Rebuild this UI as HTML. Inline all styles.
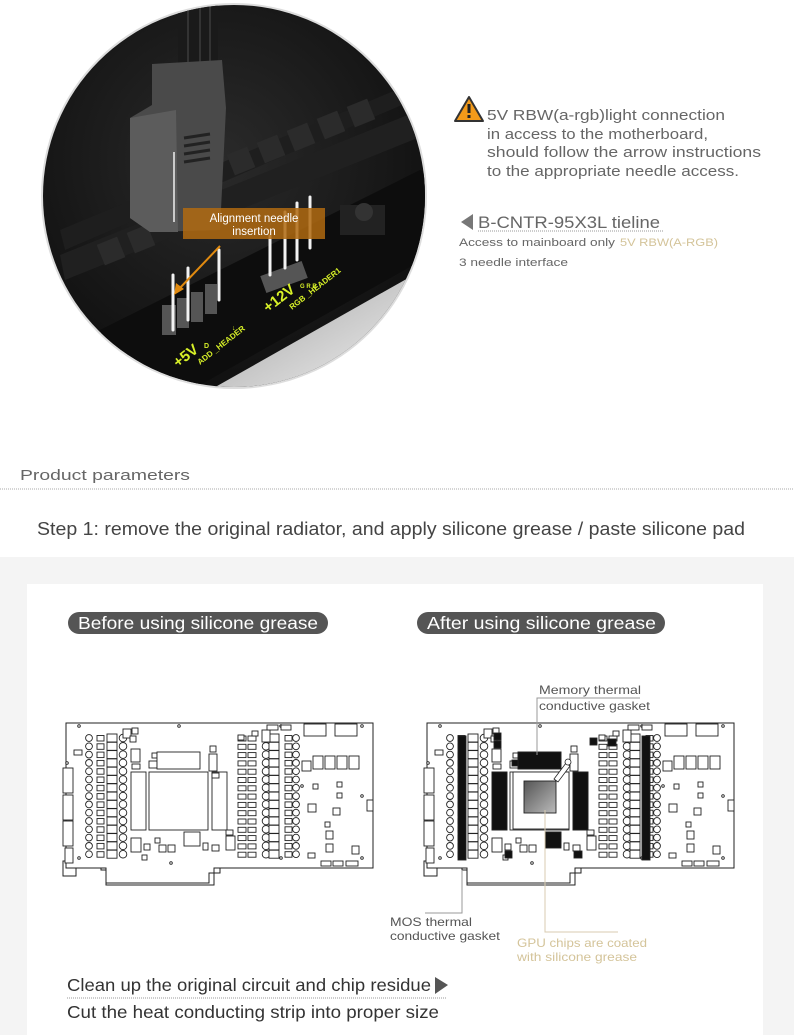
<!DOCTYPE html>
<html><head><meta charset="utf-8"><style>
html,body{margin:0;padding:0;background:#fff}
svg{display:block}
text{font-family:"Liberation Sans",sans-serif}
</style></head><body>
<svg id="s" width="794" height="1035" viewBox="0 0 794 1035" xmlns="http://www.w3.org/2000/svg">
<defs>
<radialGradient id="cg" cx="0.45" cy="0.4" r="0.7">
<stop offset="0" stop-color="#2a2a2a"/><stop offset="0.8" stop-color="#111"/><stop offset="1" stop-color="#0a0a0a"/>
</radialGradient>
<linearGradient id="lit" x1="0" y1="0" x2="1" y2="1">
<stop offset="0" stop-color="#999"/><stop offset="1" stop-color="#fafafa"/>
</linearGradient>
<linearGradient id="gpu" x1="0" y1="0" x2="1" y2="1">
<stop offset="0" stop-color="#555"/><stop offset="1" stop-color="#bbb"/>
</linearGradient>
<clipPath id="cc"><circle cx="234" cy="196" r="191"/></clipPath>
</defs>

<circle cx="234" cy="196" r="193" fill="#ddd"/>
<g clip-path="url(#cc)">
<rect x="40" y="0" width="400" height="400" fill="url(#cg)"/>
<path d="M210 390 L440 260 L440 400 L210 400 Z" fill="url(#lit)"/>
<path d="M100 330 L420 170 L440 180 L440 250 L200 385 L120 385 Z" fill="#0d0d0d"/>
<path d="M60 230 L420 80 L425 95 L65 250 Z" fill="#1e1e1e"/>
<path d="M60 255 L420 110 L425 135 L65 280 Z" fill="#202020"/>
<g fill="#2b2b2b">
<rect x="230" y="150" width="22" height="22" transform="rotate(-22 241 161)"/>
<rect x="260" y="138" width="22" height="22" transform="rotate(-22 271 149)"/>
<rect x="290" y="126" width="22" height="22" transform="rotate(-22 301 137)"/>
<rect x="320" y="114" width="22" height="22" transform="rotate(-22 331 125)"/>
<rect x="350" y="102" width="22" height="22" transform="rotate(-22 361 113)"/>
<rect x="100" y="240" width="22" height="22" transform="rotate(-22 111 251)"/>
<rect x="130" y="228" width="22" height="22" transform="rotate(-22 141 239)"/>
</g>
<rect x="178" y="0" width="40" height="70" rx="8" fill="#1a1a1a"/>
<line x1="188" y1="0" x2="188" y2="65" stroke="#333" stroke-width="2"/>
<line x1="200" y1="0" x2="200" y2="65" stroke="#333" stroke-width="2"/>
<line x1="210" y1="0" x2="210" y2="65" stroke="#333" stroke-width="2"/>
<path d="M152 64 L222 60 L226 108 L220 230 L150 232 L130 218 L130 118 L152 105 Z" fill="#4a4a4a"/>
<path d="M130 118 L176 110 L178 232 L150 232 L130 218 Z" fill="#5c5c5c"/>
<g stroke="#222" stroke-width="3"><line x1="184" y1="138" x2="210" y2="134"/><line x1="184" y1="146" x2="210" y2="142"/><line x1="184" y1="154" x2="210" y2="150"/><line x1="184" y1="162" x2="210" y2="158"/></g>
<line x1="174" y1="152" x2="174" y2="222" stroke="#eee" stroke-width="1.5"/>
<rect x="340" y="205" width="45" height="30" fill="#222"/>
<circle cx="364" cy="212" r="9" fill="#333"/>
<g fill="#555"><rect x="162" y="305" width="14" height="30"/><rect x="177" y="298" width="12" height="30"/><rect x="191" y="292" width="12" height="30"/><rect x="205" y="284" width="12" height="30"/>
<rect x="262" y="268" width="44" height="18" transform="rotate(-20 284 277)"/></g>
<g stroke="#f2f2f2" stroke-width="3" stroke-linecap="round">
<line x1="173" y1="275" x2="173" y2="330"/><line x1="188" y1="268" x2="188" y2="320"/><line x1="219" y1="250" x2="219" y2="300"/>
<line x1="270" y1="236" x2="270" y2="275"/><line x1="285" y1="212" x2="285" y2="268"/><line x1="297" y1="203" x2="297" y2="260"/><line x1="310" y1="197" x2="310" y2="248"/>
</g>
<g fill="#d7f028" font-weight="bold">
<text x="178" y="368" font-size="15" transform="rotate(-38 178 368)">+5V</text>
<text x="200" y="365" font-size="8" transform="rotate(-38 200 365)">ADD _HEADER</text>
<text x="268" y="313" font-size="15" transform="rotate(-38 268 313)">+12V</text>
<text x="292" y="310" font-size="8" transform="rotate(-38 292 310)">RGB _HEADER1</text>
<text x="204" y="348" font-size="7">D</text><text x="232" y="330" font-size="7">↓</text>
<text x="300" y="288" font-size="6">G  R  B</text>
</g>
<rect x="183" y="208" width="142" height="31" fill="#b06a10" opacity="0.85"/>
<text x="254" y="222" font-size="11.5" fill="#fff" text-anchor="middle">Alignment needle</text>
<text x="254" y="235" font-size="11.5" fill="#fff" text-anchor="middle">insertion</text>
<line x1="220" y1="246" x2="178" y2="290" stroke="#e08a10" stroke-width="2"/>
<path d="M174 295 L176 283 L184 289 Z" fill="#e08a10"/>
</g>

<path d="M469 97 L483 121 L455 121 Z" fill="#f39a1a" stroke="#333" stroke-width="2" stroke-linejoin="round"/>
<rect x="467.5" y="104" width="3" height="9" fill="#222"/><rect x="467.5" y="115" width="3" height="3" fill="#222"/>
<g fill="#666" font-size="15">
<text x="487" y="120" textLength="238">5V RBW(a-rgb)light connection</text>
<text x="487" y="139" textLength="221">in access to the motherboard,</text>
<text x="487" y="157" textLength="274">should follow the arrow instructions</text>
<text x="487" y="176" textLength="252">to the appropriate needle access.</text>
</g>
<path d="M461 222 L473 214 L473 230 Z" fill="#777"/>
<text x="478" y="228" font-size="17" fill="#666" textLength="182">B-CNTR-95X3L tieline</text>
<line x1="478" y1="231" x2="663" y2="231" stroke="#999" stroke-dasharray="1 1"/>
<text x="459" y="246" font-size="11" fill="#666" textLength="156">Access to mainboard only</text>
<text x="620" y="246" font-size="11" fill="#d4c49a" textLength="98">5V RBW(A-RGB)</text>
<text x="459" y="266" font-size="11" fill="#666" textLength="109">3 needle interface</text>

<text x="20" y="480" font-size="15" fill="#666" textLength="170">Product parameters</text>
<line x1="0" y1="489" x2="794" y2="489" stroke="#aaa" stroke-dasharray="1 1"/>
<text x="37" y="535" font-size="18.5" fill="#444" textLength="708">Step 1: remove the original radiator, and apply silicone grease / paste silicone pad</text>

<rect x="0" y="557" width="794" height="478" fill="#f4f4f4"/>
<rect x="27" y="584" width="736" height="451" fill="#fff"/>

<rect x="68" y="612" width="260" height="22" rx="11" fill="#555"/>
<text x="78" y="629" font-size="17.5" fill="#fff" textLength="240">Before using silicone grease</text>
<rect x="417" y="612" width="248" height="22" rx="11" fill="#555"/>
<text x="427" y="629" font-size="17.5" fill="#fff" textLength="229">After using silicone grease</text>

<g id="b1" transform="translate(66,723)"></g>
<g id="b2" transform="translate(427,723)"></g>

<polyline points="537,755 537,698 640,698" fill="none" stroke="#999"/>
<text x="539" y="694" font-size="12" fill="#555" textLength="102">Memory thermal</text>
<text x="539" y="710" font-size="12" fill="#555" textLength="111">conductive gasket</text>
<polyline points="462,870 462,913 425,913" fill="none" stroke="#999"/>
<text x="390" y="926" font-size="12" fill="#555" textLength="82">MOS thermal</text>
<text x="390" y="940" font-size="12" fill="#555" textLength="110">conductive gasket</text>
<polyline points="545,810 545,932 618,932" fill="none" stroke="#d8cbb0"/>
<text x="517" y="947" font-size="12" fill="#d4c49a" textLength="130">GPU chips are coated</text>
<text x="517" y="961" font-size="12" fill="#d4c49a" textLength="120">with silicone grease</text>

<text x="67" y="991" font-size="17.5" fill="#333" textLength="364">Clean up the original circuit and chip residue</text>
<path d="M435 977 L448 985 L435 994 Z" fill="#555"/>
<line x1="67" y1="998" x2="447" y2="998" stroke="#999" stroke-dasharray="1 1"/>
<text x="67" y="1018" font-size="17.5" fill="#333" textLength="372">Cut the heat conducting strip into proper size</text>
</svg>
<script>
(function(){
var NS="http://www.w3.org/2000/svg";
var ts=document.querySelectorAll("text[textLength]");
for(var i=0;i<ts.length;i++)ts[i].setAttribute("lengthAdjust","spacingAndGlyphs");
function el(g,t,a){var e=document.createElementNS(NS,t);for(var k in a)e.setAttribute(k,a[k]);g.appendChild(e);return e;}
function draw(id,after){
var g=document.getElementById(id);
var S={fill:"#fff",stroke:"#222","stroke-width":"0.9"};
function R(x,y,w,h,f){var a={x:x,y:y,width:w,height:h};for(var k in S)a[k]=S[k];if(f)a.fill=f;el(g,"rect",a);}
function C(x,y,r){var a={cx:x,cy:y,r:r};for(var k in S)a[k]=S[k];el(g,"circle",a);}
el(g,"path",{d:"M0 0 H307 V145 H148 V150 H143 V160 H40 V147 H35 V145 H0 V138 H-3 V153 H10 V145 H0 Z M0 0 V145",fill:"#fff",stroke:"#222","stroke-width":"1"});
el(g,"path",{d:"M35 145 H40 V162 H148 V150 H154 V145",fill:"none",stroke:"#222","stroke-width":"1"});
R(-3,45,10,25);R(-3,72,10,25);R(-3,98,10,25);R(-1,125,8,15);
[[13,3],[113,3],[1,40],[85,42],[146,42],[13,135],[105,140],[151,126],[215,135],[296,3],[296,135],[215,3],[236,63],[296,73]].forEach(function(p){C(p[0],p[1],1.3);});
for(var i=0;i<15;i++){var y=15+i*8.3;C(23,y,3.4);R(31,y-2.5,7,5.5);R(41,y-4,10,8);C(57,y,3.8);C(200,y,3.8);R(172,y-2,8,5);R(182,y-2,8,5);R(203,y-4,10,8);R(219,y-2.5,7,5.5);C(230,y,3.4);}
R(8,27,8,5);R(57,6,8,9);R(66,5,6,6);R(64,13,6,6);R(86,30,5,5);R(83,38,8,7);R(65,26,9,13);R(66,41,8,5);
R(91,29,43,17);R(83,49,59,58);R(65,49,15,58);R(146,49,15,58);
R(143,31,8,17);R(144,23,6,6);R(146,50,7,5);R(172,12,6,5);R(186,8,6,5);R(196,7,8,12);
R(201,2,11,5);R(215,2,10,5);R(238,1,22,12);R(269,1,22,12);
R(236,38,9,10);R(247,33,10,13);R(259,33,10,13);R(271,33,10,13);R(283,33,10,13);
R(247,61,5,5);R(271,59,5,5);R(271,70,5,5);R(242,81,8,8);R(267,85,7,7);R(301,77,6,11);R(259,99,5,5);R(260,108,7,8);R(260,121,7,8);R(286,123,7,8);R(242,130,7,5);R(255,138,10,5);R(267,138,10,5);R(280,138,12,5);
R(118,109,16,14);R(65,115,10,14);R(78,121,6,6);R(89,115,5,5);R(93,122,7,7);R(102,122,7,7);R(76,132,5,5);R(137,120,5,7);R(146,122,7,6);R(160,113,9,14);R(160,107,7,5);
if(after){
 R(31,13,8,124,"#111");R(215,13,8,124,"#111");
 R(91,29,43,17,"#111");R(65,49,15,58,"#111");R(146,49,15,58,"#111");
 R(67,10,7,7,"#111");R(67,18,7,7,"#111");R(85,37,6,6,"#111");R(163,15,7,7,"#111");R(181,16,8,7,"#111");
 R(118,109,16,16,"#111");R(78,128,7,7,"#111");R(147,128,8,7,"#111");
 R(86,49,56,57,"#fff");R(97,58,32,32,"url(#gpu)");
 el(g,"path",{d:"M127 56 L139 40 L143 43 L131 59 Z",fill:"#fff",stroke:"#222","stroke-width":"0.8"});
 el(g,"circle",{cx:141,cy:39,r:3,fill:"#fff",stroke:"#222","stroke-width":"0.8"});
}
}
draw("b1",false);draw("b2",true);
})();
</script>
</body></html>
